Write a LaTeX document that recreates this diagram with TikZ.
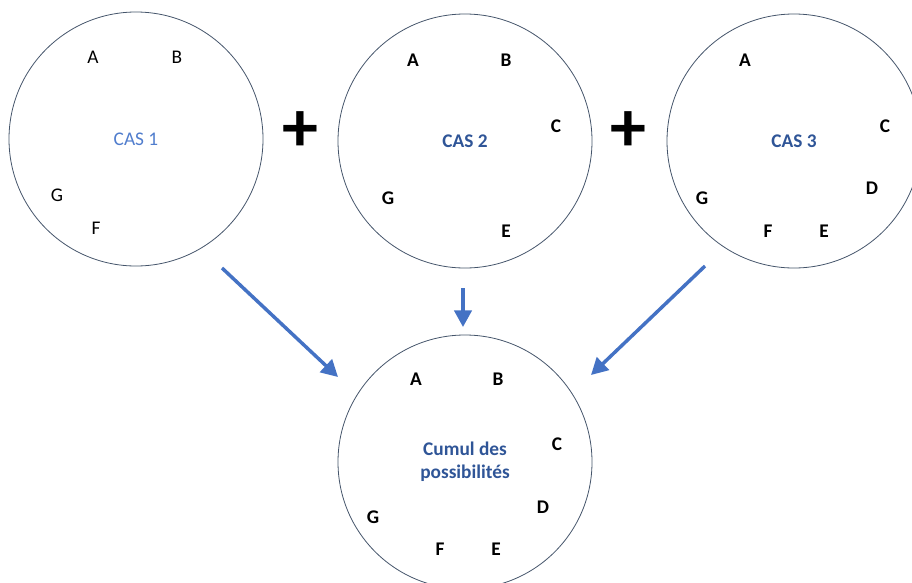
\documentclass[tikz,border=0pt]{standalone}
\usepackage{fontspec}
\setmainfont{Carlito}
\usetikzlibrary{arrows.meta}

\definecolor{bordcercle}{RGB}{68,84,106}
\definecolor{bleufleche}{RGB}{68,114,196}
\definecolor{bleucas}{RGB}{47,85,151}
\definecolor{bleuclair}{RGB}{80,125,205}

\tikzset{
  cercle/.style={circle, draw=bordcercle, line width=0.6pt, minimum size=190.5pt, inner sep=0pt},
  lettre/.style={font=\fontsize{14.5}{17}\selectfont},
  lettreb/.style={font=\fontsize{14.5}{17}\selectfont\bfseries},
  signe/.style={font=\fontsize{54}{54}\selectfont\bfseries},
  fleche/.style={draw=bleufleche, line width=2.6pt, -{Triangle[length=12.5pt,width=13pt]}}
}

\begin{document}
\begin{tikzpicture}[x=0.75pt, y=-0.75pt]
		\clip (0,0) rectangle (912,582);
		% les trois cas
		\node [cercle, lettre, text=bleuclair] (cas1) at (136,139) {CAS 1};
		\node [cercle, lettreb, text=bleucas] (cas2) at (465,141) {CAS 2};
		\node [cercle, lettreb, text=bleucas] (cas3) at (794,141) {CAS 3};
		\node [cercle, lettreb, text=bleucas, align=center] (cumul) at (465,462) {Cumul des\\possibilités};
		\node [signe] (plus1) at (300,132) {+};
		\node [signe] (plus2) at (628,132) {+};
		% cas 1
		\node [lettre] (c1a) at (93,57) {A};
		\node [lettre] (c1b) at (177,57) {B};
		\node [lettre] (c1g) at (57,195) {G};
		\node [lettre] (c1f) at (96,228) {F};
		% cas 2
		\node [lettreb] (c2a) at (413,60) {A};
		\node [lettreb] (c2b) at (506,60) {B};
		\node [lettreb] (c2c) at (556,126) {C};
		\node [lettreb] (c2g) at (388,198) {G};
		\node [lettreb] (c2e) at (506,231) {E};
		% cas 3
		\node [lettreb] (c3a) at (745,60) {A};
		\node [lettreb] (c3c) at (885,126) {C};
		\node [lettreb] (c3d) at (872,188) {D};
		\node [lettreb] (c3g) at (702,198) {G};
		\node [lettreb] (c3f) at (768,231) {F};
		\node [lettreb] (c3e) at (824,231) {E};
		% cumul
		\node [lettreb] (cua) at (416,379) {A};
		\node [lettreb] (cub) at (498,379) {B};
		\node [lettreb] (cuc) at (557,444) {C};
		\node [lettreb] (cud) at (543,507) {D};
		\node [lettreb] (cug) at (373,517) {G};
		\node [lettreb] (cuf) at (440,549) {F};
		\node [lettreb] (cue) at (496,549) {E};
		% fleches
		\coordinate (d1) at (222,268);
		\coordinate (f1) at (338,377);
		\coordinate (d2) at (463,288);
		\coordinate (f2) at (463,327);
		\coordinate (d3) at (705,266);
		\coordinate (f3) at (591,375);
		\draw [fleche] (d1) -- (f1);
		\draw [fleche] (d2) -- (f2);
		\draw [fleche] (d3) -- (f3);
	\end{tikzpicture}
\end{document}
